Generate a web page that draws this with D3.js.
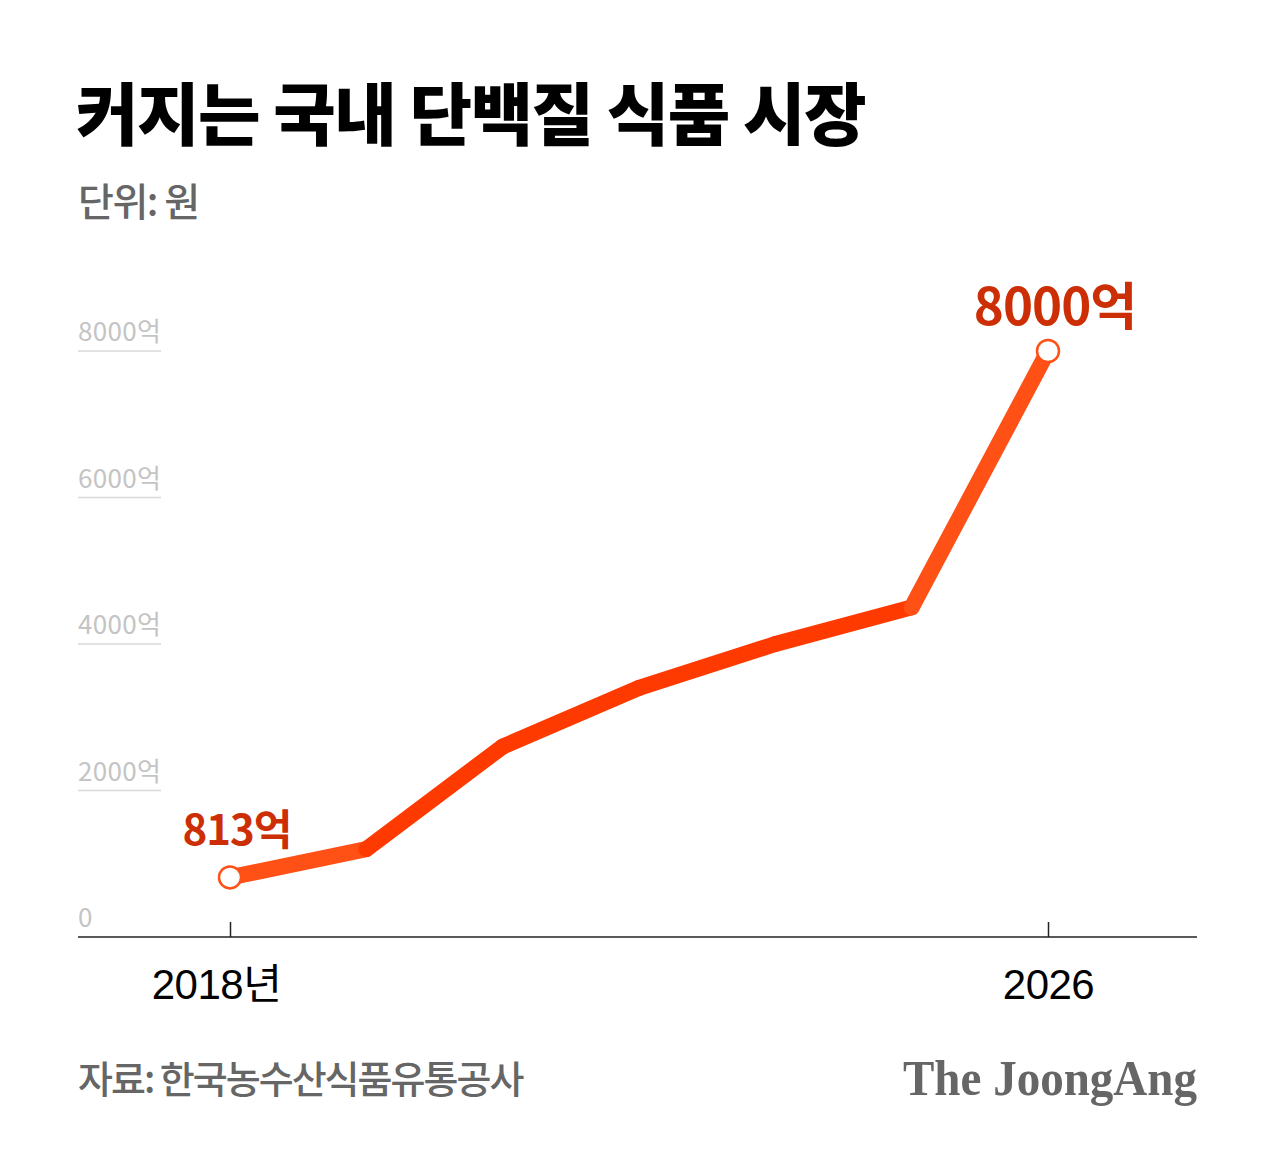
<!DOCTYPE html>
<html>
<head>
<meta charset="utf-8">
<script src="https://cdn.jsdelivr.net/npm/d3@7"></script>
<style>
  body { margin: 0; background: #fff; }
</style>
</head>
<body>
<div id="chart"></div>
<script>
// data
var years = ["2018", "2019", "2020", "2021", "2022", "2023", "2026"];
var market = [813, 1200, 2600, 3400, 4000, 4500, 8000];
var yTicks = [0, 2000, 4000, 6000, 8000];
var xLabels = {"2018": "2018년", "2026": "2026"};
var callouts = [{year: "2018", text: "813억"}, {year: "2026", text: "8000억"}];

var width = 1280, height = 1152;
var kr = "'Noto Sans CJK KR', 'Noto Sans', sans-serif";
var segColors = ["#ff5016", "#ff3a00", "#ff3a00", "#ff3a00", "#ff3a00", "#ff5016"];
var calloutStyle = {"2018": {size: 42, dy: -32}, "2026": {size: 51, dy: -26}};

var svg = d3.select("#chart")
    .append("svg")
    .attr("width", width)
    .attr("height", height)
    .style("font-family", kr);

var x = d3.scalePoint()
    .domain(years)
    .range([230, 1048]);

var y = d3.scaleLinear()
    .domain([0, 8000])
    .range([937, 351]);

// title
svg.append("text")
    .attr("x", 76)
    .attr("y", 140)
    .attr("font-size", 68)
    .attr("font-weight", 900)
    .attr("letter-spacing", -1.5)
    .attr("fill", "#000")
    .text("커지는 국내 단백질 식품 시장");

svg.append("text")
    .attr("x", 78)
    .attr("y", 216)
    .attr("font-size", 39)
    .attr("font-weight", 500)
    .attr("letter-spacing", -1.5)
    .attr("fill", "#666")
    .text("단위: 원");

// y ticks: short underline + label
var yg = svg.append("g");
yg.selectAll("line")
    .data(yTicks.filter(function (d) { return d > 0; }))
    .enter()
    .append("line")
    .attr("x1", 78)
    .attr("x2", 161)
    .attr("y1", function (d) { return y(d); })
    .attr("y2", function (d) { return y(d); })
    .attr("stroke", "#d9d9d9")
    .attr("stroke-width", 1.5);

yg.selectAll("text")
    .data(yTicks)
    .enter()
    .append("text")
    .attr("x", 78)
    .attr("y", function (d) { return y(d) - 10; })
    .attr("font-size", 26)
    .attr("letter-spacing", 0.3)
    .attr("fill", "#c4c4c4")
    .text(function (d) { return d === 0 ? "0" : d + "억"; });

// x axis
var xAxis = d3.axisBottom(x)
    .tickValues(["2018", "2026"])
    .tickSize(-15)
    .tickFormat(function (d) { return xLabels[d]; });

var xg = svg.append("g")
    .attr("transform", "translate(0," + y(0) + ")")
    .call(xAxis);

xg.select(".domain").remove();
xg.insert("line", ":first-child")
    .attr("x1", 78)
    .attr("x2", 1197)
    .attr("stroke", "#222")
    .attr("stroke-width", 1.5);
xg.selectAll(".tick line").attr("stroke", "#222").attr("stroke-width", 1.5);
xg.selectAll(".tick text")
    .attr("y", 62)
    .attr("dy", 0)
    .attr("dx", function (d) { return d === "2018" ? -14 : 0; })
    .attr("font-size", 42)
    .style("font-family", "'Liberation Sans', " + kr)
    .attr("letter-spacing", -0.5)
    .attr("fill", "#000");

// line, drawn segment by segment
var pts = years.map(function (d, i) { return [x(d), y(market[i])]; });
svg.append("g")
    .selectAll("line")
    .data(d3.pairs(pts))
    .enter()
    .append("line")
    .attr("x1", function (d) { return d[0][0]; })
    .attr("y1", function (d) { return d[0][1]; })
    .attr("x2", function (d) { return d[1][0]; })
    .attr("y2", function (d) { return d[1][1]; })
    .attr("stroke", function (d, i) { return segColors[i]; })
    .attr("stroke-width", 16)
    .attr("stroke-linecap", "round");

// end markers
svg.append("g")
    .selectAll("circle")
    .data(callouts)
    .enter()
    .append("circle")
    .attr("cx", function (d) { return x(d.year); })
    .attr("cy", function (d) { return y(market[years.indexOf(d.year)]); })
    .attr("r", 11)
    .attr("fill", "#fff")
    .attr("stroke", "#ff5016")
    .attr("stroke-width", 2.5);

svg.append("g")
    .selectAll("text")
    .data(callouts)
    .enter()
    .append("text")
    .attr("x", function (d) { return x(d.year) + 7; })
    .attr("y", function (d) { return y(market[years.indexOf(d.year)]) + calloutStyle[d.year].dy; })
    .attr("text-anchor", "middle")
    .attr("font-size", function (d) { return calloutStyle[d.year].size; })
    .attr("font-weight", 700)
    .attr("letter-spacing", -1)
    .attr("fill", "#cc2f06")
    .text(function (d) { return d.text; });

// footer
svg.append("text")
    .attr("x", 78)
    .attr("y", 1093)
    .attr("font-size", 38)
    .attr("font-weight", 500)
    .attr("letter-spacing", -2)
    .attr("fill", "#666")
    .text("자료: 한국농수산식품유통공사");

svg.append("text")
    .attr("x", 903)
    .attr("y", 1095)
    .attr("font-size", 50)
    .attr("font-weight", 700)
    .style("font-family", "'Liberation Serif', 'DejaVu Serif', serif")
    .attr("textLength", 294)
    .attr("lengthAdjust", "spacingAndGlyphs")
    .attr("fill", "#666")
    .text("The JoongAng");
</script>
</body>
</html>
